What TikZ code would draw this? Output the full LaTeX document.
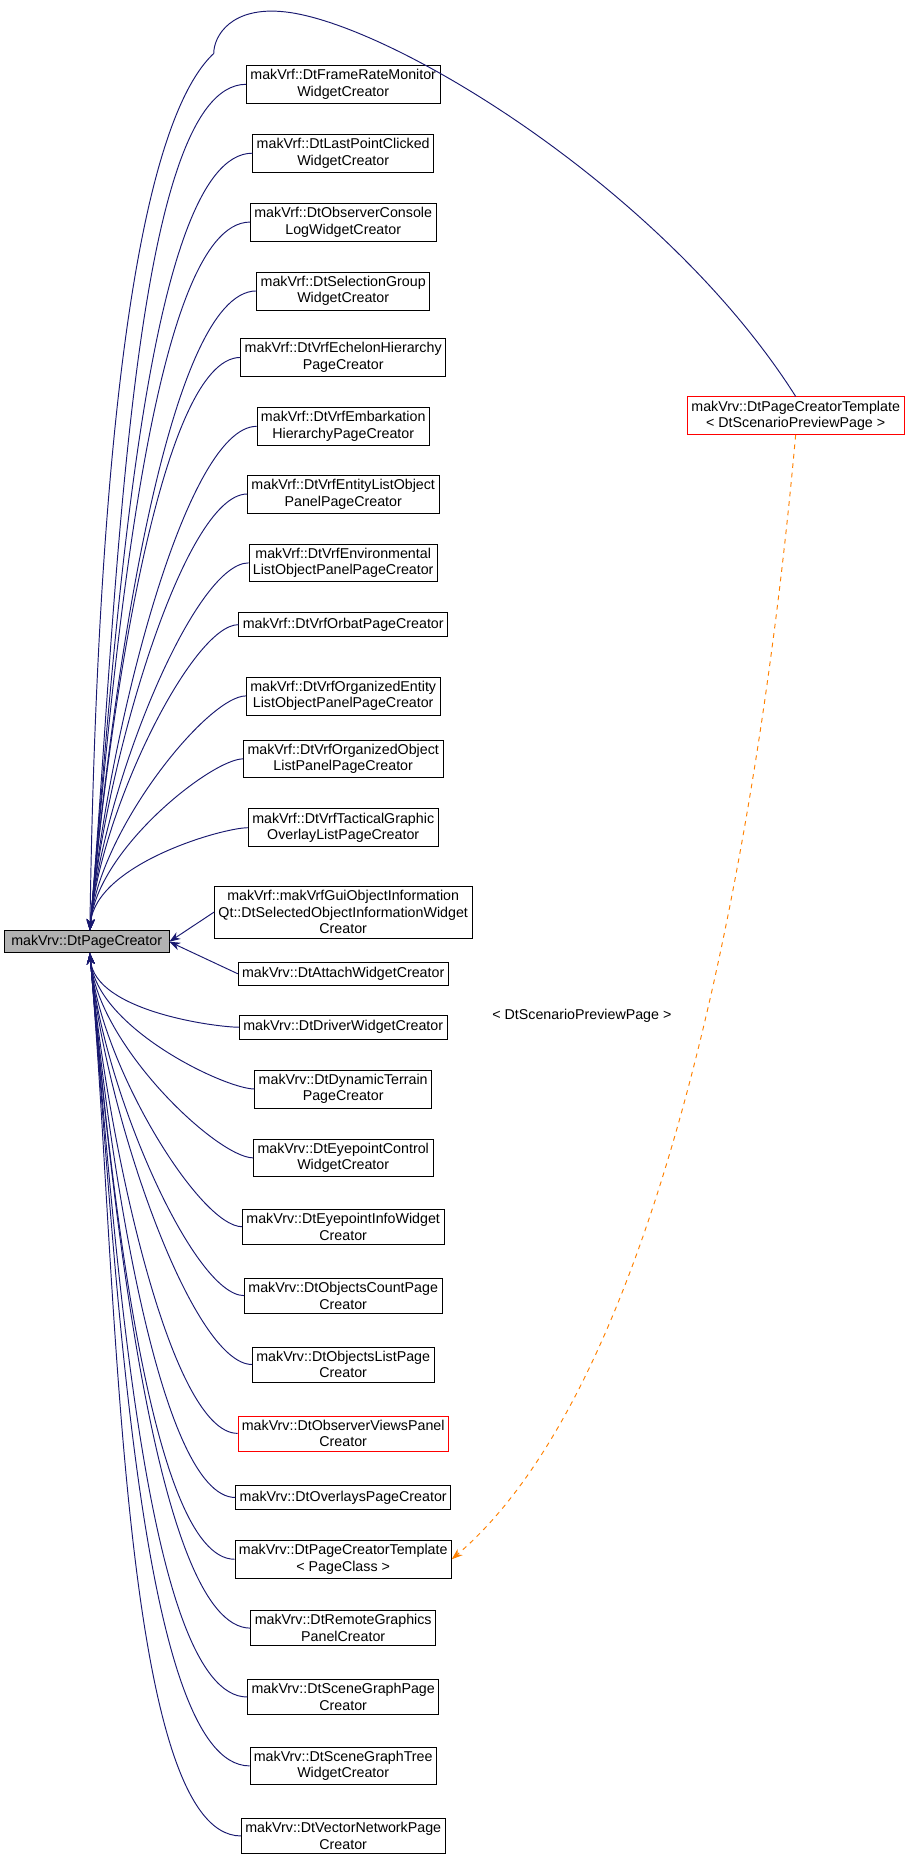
\documentclass[tikz,border=0pt]{standalone}
\usepackage{fontspec}
\setmainfont{Liberation Sans}
\usetikzlibrary{arrows.meta}
\tikzset{
  cls/.style={draw=black,fill=white,align=center,font=\fontsize{9}{10.5}\selectfont,inner sep=2.5pt,minimum height=19pt},
  redcls/.style={cls,draw=red},
  edge/.style={draw={rgb,255:red,25;green,25;blue,112},semithick,-{Stealth[length=7pt,width=5pt]}},
  tmpl/.style={draw=orange,semithick,dashed,-{Stealth[length=7pt,width=5pt]}}
}
\begin{document}
\begin{tikzpicture}[x=0.75pt,y=-0.75pt]
\useasboundingbox (0,0) rectangle (768,1573);
%base class
\node[cls,fill=gray!60,minimum height=14pt,minimum width=104pt] (base) at (73,793) {makVrv::DtPageCreator};
%derived classes
\node[cls] (c1) at (289,71) {makVrf::DtFrameRateMonitor\\WidgetCreator};
\node[cls] (c2) at (289,129) {makVrf::DtLastPointClicked\\WidgetCreator};
\node[cls] (c3) at (289,187) {makVrf::DtObserverConsole\\LogWidgetCreator};
\node[cls] (c4) at (289,245) {makVrf::DtSelectionGroup\\WidgetCreator};
\node[cls] (c5) at (289,301) {makVrf::DtVrfEchelonHierarchy\\PageCreator};
\node[cls] (c6) at (289,359) {makVrf::DtVrfEmbarkation\\HierarchyPageCreator};
\node[cls] (c7) at (289,416) {makVrf::DtVrfEntityListObject\\PanelPageCreator};
\node[cls] (c8) at (289,474) {makVrf::DtVrfEnvironmental\\ListObjectPanelPageCreator};
\node[cls,minimum height=15pt] (c9) at (289,526) {makVrf::DtVrfOrbatPageCreator};
\node[cls] (c10) at (289,586) {makVrf::DtVrfOrganizedEntity\\ListObjectPanelPageCreator};
\node[cls] (c11) at (289,639) {makVrf::DtVrfOrganizedObject\\ListPanelPageCreator};
\node[cls] (c12) at (289,697) {makVrf::DtVrfTacticalGraphic\\OverlayListPageCreator};
\node[cls] (c13) at (289,768) {makVrf::makVrfGuiObjectInformation\\Qt::DtSelectedObjectInformationWidget\\Creator};
\node[cls,minimum height=15pt] (c14) at (289,820) {makVrv::DtAttachWidgetCreator};
\node[cls,minimum height=15pt] (c15) at (289,865) {makVrv::DtDriverWidgetCreator};
\node[cls] (c16) at (289,917) {makVrv::DtDynamicTerrain\\PageCreator};
\node[cls] (c17) at (289,975) {makVrv::DtEyepointControl\\WidgetCreator};
\node[cls] (c18) at (289,1033) {makVrv::DtEyepointInfoWidget\\Creator};
\node[cls] (c19) at (289,1091) {makVrv::DtObjectsCountPage\\Creator};
\node[cls] (c20) at (289,1149) {makVrv::DtObjectsListPage\\Creator};
\node[redcls] (c21) at (289,1207) {makVrv::DtObserverViewsPanel\\Creator};
\node[cls,minimum height=15pt] (c22) at (289,1261) {makVrv::DtOverlaysPageCreator};
\node[cls] (c23) at (289,1313) {makVrv::DtPageCreatorTemplate\\< PageClass >};
\node[cls] (c24) at (289,1371) {makVrv::DtRemoteGraphics\\PanelCreator};
\node[cls] (c25) at (289,1429) {makVrv::DtSceneGraphPage\\Creator};
\node[cls] (c26) at (289,1487) {makVrv::DtSceneGraphTree\\WidgetCreator};
\node[cls] (c27) at (289,1546) {makVrv::DtVectorNetworkPage\\Creator};
\node[redcls] (tr) at (670,350) {makVrv::DtPageCreatorTemplate\\< DtScenarioPreviewPage >};
\node[font=\fontsize{9}{10.5}\selectfont] (lbl) at (490,855) {< DtScenarioPreviewPage >};
%inheritance
\foreach \i in {1,...,12}
  \draw[edge] (c\i.west) to[out=180,in=85,out looseness=0.35,in looseness=0.9] ([xshift=2pt]base.north);
\foreach \i in {13,14}
  \draw[edge] (c\i.west) -- (base.east);
\foreach \i in {15,...,27}
  \draw[edge] (c\i.west) to[out=180,in=-85,out looseness=0.35,in looseness=0.9] ([xshift=2pt]base.south);
\draw[edge] (tr.north) .. controls (560,160) and (330,20) .. (240,10)
  .. controls (195,5) and (180,30) .. (180,45)
  .. controls (100,120) and (80,500) .. ([xshift=2pt]base.north);
%template instance
\draw[tmpl] (tr.south) .. controls (640,700) and (560,1160) .. (c23.east);
\end{tikzpicture}
\end{document}
